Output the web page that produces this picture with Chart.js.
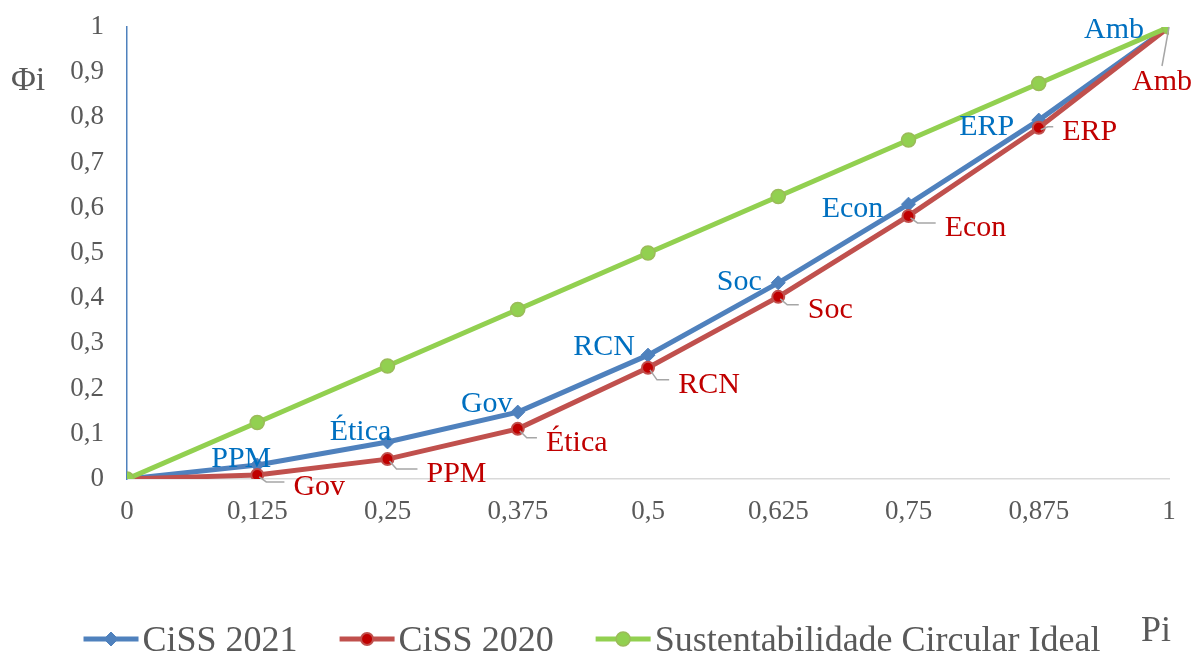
<!DOCTYPE html>
<html>
<head>
<meta charset="utf-8">
<script src="https://cdn.jsdelivr.net/npm/chart.js@4.4.0/dist/chart.umd.min.js"></script>
<style>
html, body { margin: 0; padding: 0; background: #fff; }
</style>
</head>
<body>
<canvas id="chart" width="1195" height="654"></canvas>
<script>
// data
var pi = [0, 0.125, 0.25, 0.375, 0.5, 0.625, 0.75, 0.875, 1];
var ciss2021 = [0, 0.031, 0.082, 0.148, 0.274, 0.434, 0.608, 0.794, 1];
var ciss2020 = [0, 0.009, 0.044, 0.111, 0.246, 0.403, 0.582, 0.777, 1];
var ideal = [0, 0.125, 0.25, 0.375, 0.5, 0.625, 0.75, 0.875, 1];
var names2021 = ['', 'PPM', 'Ética', 'Gov', 'RCN', 'Soc', 'Econ', 'ERP', 'Amb'];
var names2020 = ['', 'Gov', 'PPM', 'Ética', 'RCN', 'Soc', 'Econ', 'ERP', 'Amb'];
var seriesNames = ['CiSS 2021', 'CiSS 2020', 'Sustentabilidade Circular Ideal'];

var FONT = '"Liberation Serif", "Times New Roman", serif';
var GREY = '#595959';

function pts(xs, ys) {
  var out = [];
  for (var i = 0; i < xs.length; i++) out.push({x: xs[i], y: ys[i]});
  return out;
}

// label placement (pixels, text centre x / baseline y relative to the point)
var labelStyle = [
  {color: '#0070C0', leader: false,
   off: [null, [-16, 2], [-27, -2], [-31, 0], [-44, 0], [-39, 7], [-56, 13], [-52, 15], [-55, 11]]},
  {color: '#C00000', leader: true,
   off: [null, [62, 20], [69, 23], [59, 22], [61, 25], [52, 21], [67, 20], [51, 12], [-7, 63]]}
];

var pointLabels = {
  id: 'pointLabels',
  afterDatasetsDraw: function(chart) {
    var ctx = chart.ctx;
    var sets = [names2021, names2020];
    ctx.save();
    ctx.font = '30px ' + FONT;
    ctx.textAlign = 'center';
    ctx.textBaseline = 'alphabetic';
    for (var s = 0; s < 2; s++) {
      var meta = chart.getDatasetMeta(s);
      var st = labelStyle[s];
      for (var j = 0; j < sets[s].length; j++) {
        if (!sets[s][j]) continue;
        var p = meta.data[j];
        var dx = st.off[j][0], dy = st.off[j][1];
        var tx = p.x + dx, ty = p.y + dy;
        if (st.leader) {
          var w = ctx.measureText(sets[s][j]).width;
          ctx.strokeStyle = '#A6A6A6';
          ctx.lineWidth = 1.5;
          ctx.beginPath();
          if (dy > 40) {
            ctx.moveTo(p.x, p.y);
            ctx.lineTo(tx, ty - 24);
          } else {
            var my = ty - 13;
            ctx.moveTo(p.x + 2, p.y + 2);
            ctx.lineTo(p.x + 9, my);
            ctx.lineTo(tx - w / 2 - 9, my);
          }
          ctx.stroke();
        }
        ctx.fillStyle = st.color;
        ctx.fillText(sets[s][j], tx, ty);
      }
    }
    ctx.restore();
  }
};

function drawMarker(ctx, ds, x, y) {
  ctx.beginPath();
  var r = ds.pointRadius;
  if (ds.pointStyle === 'rectRot') {
    ctx.moveTo(x, y - r); ctx.lineTo(x + r, y);
    ctx.lineTo(x, y + r); ctx.lineTo(x - r, y);
    ctx.closePath();
  } else {
    ctx.arc(x, y, r, 0, Math.PI * 2);
  }
  ctx.fillStyle = ds.pointBackgroundColor;
  ctx.fill();
  ctx.lineWidth = ds.pointBorderWidth;
  ctx.strokeStyle = ds.pointBorderColor;
  ctx.stroke();
}

var bottomLegend = {
  id: 'bottomLegend',
  afterDraw: function(chart) {
    var ctx = chart.ctx;
    var lineW = 55, gapText = 4, gapItem = 42, base = 651;
    ctx.save();
    ctx.font = '36px ' + FONT;
    var total = 0;
    seriesNames.forEach(function(n, i) {
      total += lineW + gapText + ctx.measureText(n).width + (i < seriesNames.length - 1 ? gapItem : 0);
    });
    var x = 592 - total / 2;
    seriesNames.forEach(function(n) {
      var ds = chart.data.datasets.filter(function(d) { return d.label === n; })[0];
      var my = base - 12;
      ctx.strokeStyle = ds.borderColor;
      ctx.lineWidth = ds.borderWidth;
      ctx.beginPath();
      ctx.moveTo(x, my); ctx.lineTo(x + lineW, my);
      ctx.stroke();
      drawMarker(ctx, ds, x + lineW / 2, my);
      x += lineW + gapText;
      ctx.fillStyle = GREY;
      ctx.textAlign = 'left';
      ctx.textBaseline = 'alphabetic';
      ctx.fillText(n, x, base);
      x += ctx.measureText(n).width + gapItem;
    });
    // axis titles
    ctx.font = '34px ' + FONT;
    ctx.fillText('Φi', 11, 90);
    ctx.font = '36px ' + FONT;
    ctx.fillText('Pi', 1141, 641);
    ctx.restore();
  }
};

new Chart(document.getElementById('chart').getContext('2d'), {
  type: 'line',
  data: {
    datasets: [
      {label: seriesNames[0], data: pts(pi, ciss2021), order: 2,
       borderColor: '#4F81BD', borderWidth: 5, pointStyle: 'rectRot', pointRadius: 7,
       pointBackgroundColor: '#4F81BD', pointBorderColor: '#4F81BD', pointBorderWidth: 1},
      {label: seriesNames[1], data: pts(pi, ciss2020), order: 1,
       borderColor: '#C0504D', borderWidth: 5, pointStyle: 'circle', pointRadius: 6,
       pointBackgroundColor: '#C00000', pointBorderColor: '#C0504D', pointBorderWidth: 2},
      {label: seriesNames[2], data: pts(pi, ideal), order: 0,
       borderColor: '#92D050', borderWidth: 5, pointStyle: 'circle', pointRadius: 7,
       pointBackgroundColor: '#92D050', pointBorderColor: '#9BBB59', pointBorderWidth: 1.5}
    ]
  },
  options: {
    responsive: false,
    animation: false,
    layout: {padding: {top: 27, right: 26, bottom: 100, left: 0}},
    elements: {line: {tension: 0}},
    plugins: {legend: {display: false}, tooltip: {enabled: false}},
    scales: {
      x: {
        type: 'linear', min: 0, max: 1,
        grid: {drawOnChartArea: false, drawTicks: false},
        border: {color: '#D9D9D9', width: 1.5},
        ticks: {
          stepSize: 0.125, padding: 17, color: GREY, font: {family: FONT, size: 27},
          callback: function(v) { return String(+v.toFixed(3)).replace('.', ','); }
        },
        afterFit: function(scale) { scale.height = 75; }
      },
      y: {
        min: 0, max: 1,
        grid: {drawOnChartArea: false, drawTicks: false},
        border: {color: '#4F81BD', width: 1.5},
        ticks: {
          stepSize: 0.1, padding: 23, color: GREY, font: {family: FONT, size: 27},
          callback: function(v) { return String(+v.toFixed(1)).replace('.', ','); }
        },
        afterFit: function(scale) {
          scale.width = 127;
          scale.paddingTop = 0;
          scale.paddingBottom = 0;
        }
      }
    }
  },
  plugins: [pointLabels, bottomLegend]
});
</script>
</body>
</html>
